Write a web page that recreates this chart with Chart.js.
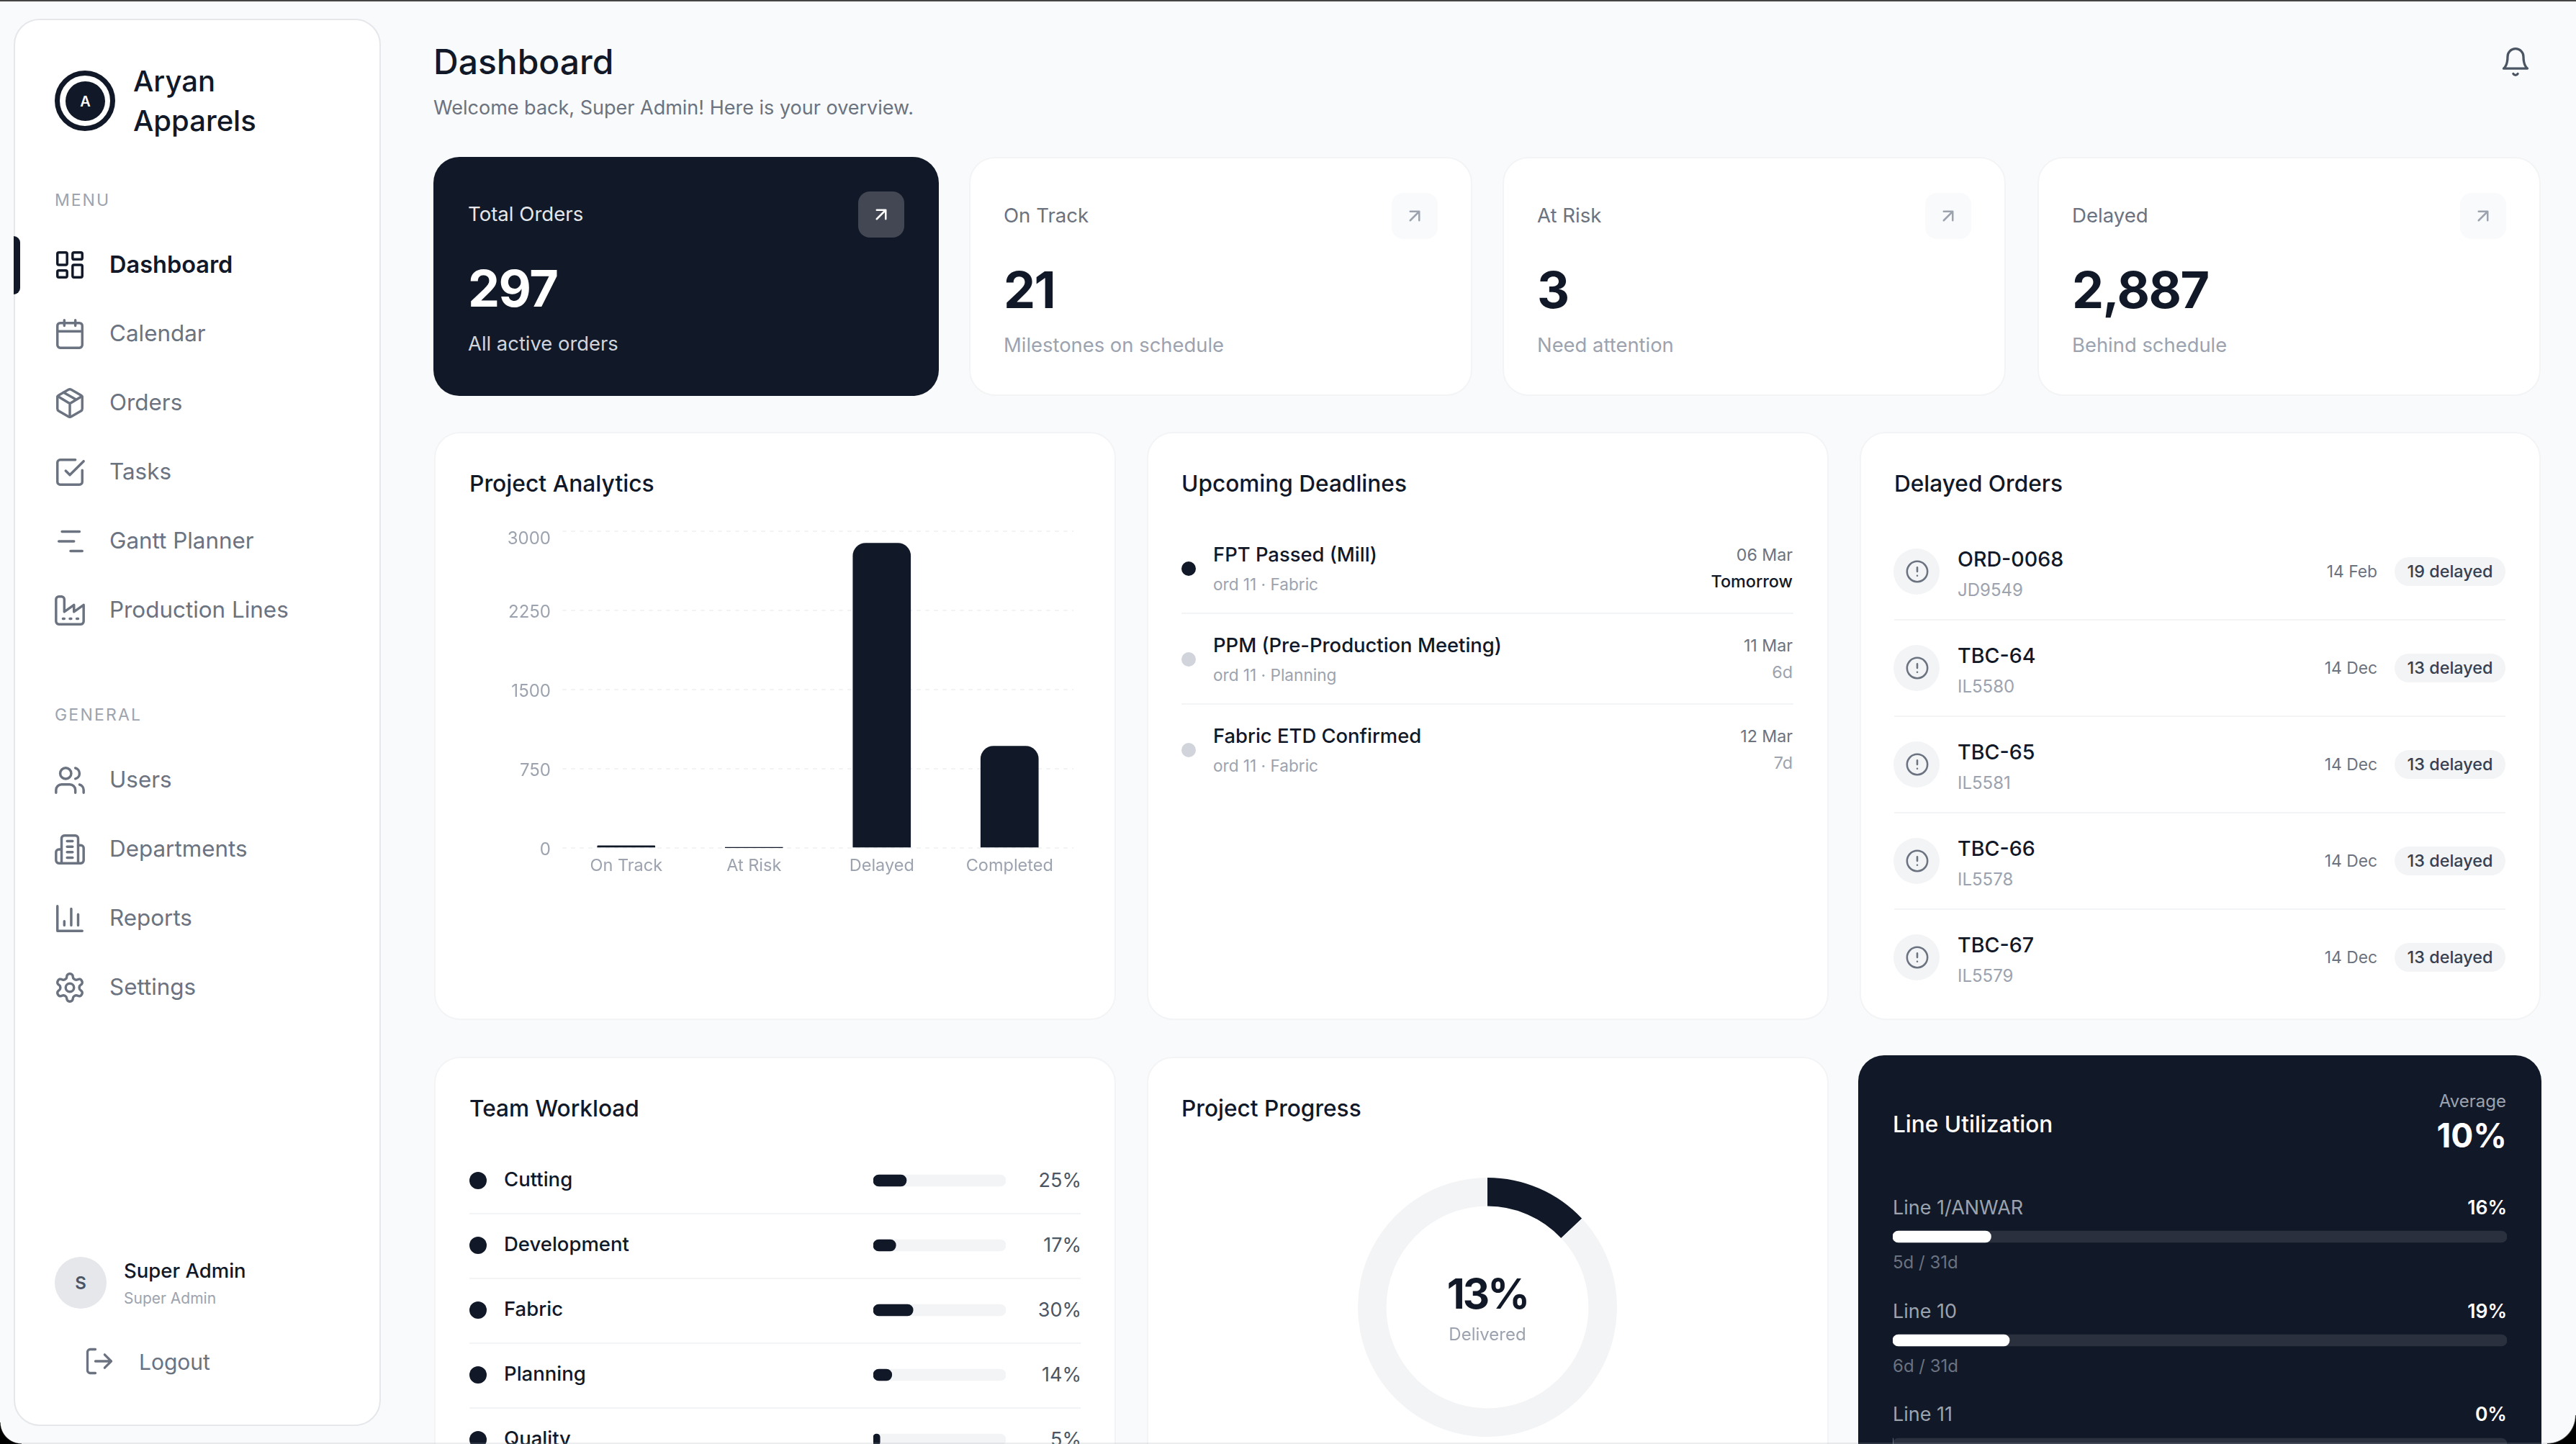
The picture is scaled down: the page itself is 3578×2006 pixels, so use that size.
<!DOCTYPE html>
<html>
<head>
<meta charset="utf-8">
<title>Dashboard</title>
<script src="https://cdn.jsdelivr.net/npm/chart.js@4/dist/chart.umd.min.js"></script>
<style>
html,body{margin:0;padding:0;background:#f9fafb;}
#page{position:relative;width:3578px;height:2006px;overflow:hidden;background:#f9fafb;font-family:Inter,sans-serif;color:#111827;}
#page div,#page span,#page svg,#page canvas{position:absolute;}
.card{background:#fff;border:2px solid #f3f4f6;box-sizing:border-box;border-radius:36px;}
.dark{background:#111827;border:0;}
.t{white-space:nowrap;line-height:1;transform:translateY(-50%);}
.r{transform:translate(-100%,-50%);}
.c{transform:translate(-50%,-50%);}
svg{fill:none;stroke-linecap:round;stroke-linejoin:round;}
</style>
</head>
<body>
<div id="page"></div>
<script>
// chart values
var analyticsLabels = ["On Track", "At Risk", "Delayed", "Completed"];
var analyticsValues = [21, 3, 2887, 965];
var analyticsTicks = [0, 750, 1500, 2250, 3000];

var teamNames = ["Cutting", "Development", "Fabric", "Planning", "Quality"];
var teamLoads = [25, 17, 30, 14, 5];
var teamTrack = [100, 100, 100, 100, 100];

var lineNames = ["Line 1/ANWAR", "Line 10", "Line 11"];
var lineUsage = [16, 19, 0];
var lineTrack = [100, 100, 100];
var lineDays = ["5d / 31d", "6d / 31d", ""];

var progressLabels = ["Delivered", "Remaining"];
var progressValues = [13, 87];

// lists
var menuItems = ["Dashboard", "Calendar", "Orders", "Tasks", "Gantt Planner", "Production Lines"];
var generalItems = ["Users", "Departments", "Reports", "Settings"];
var kpiLabels = ["Total Orders", "On Track", "At Risk", "Delayed"];
var kpiValues = ["297", "21", "3", "2,887"];
var kpiNotes = ["All active orders", "Milestones on schedule", "Need attention", "Behind schedule"];
var deadlineNames = ["FPT Passed (Mill)", "PPM (Pre-Production Meeting)", "Fabric ETD Confirmed"];
var deadlineSubs = ["ord 11 · Fabric", "ord 11 · Planning", "ord 11 · Fabric"];
var deadlineDates = ["06 Mar", "11 Mar", "12 Mar"];
var deadlineLeft = ["Tomorrow", "6d", "7d"];
var delayedNames = ["ORD-0068", "TBC-64", "TBC-65", "TBC-66", "TBC-67"];
var delayedCodes = ["JD9549", "IL5580", "IL5581", "IL5578", "IL5579"];
var delayedDates = ["14 Feb", "14 Dec", "14 Dec", "14 Dec", "14 Dec"];
var delayedBadges = ["19 delayed", "13 delayed", "13 delayed", "13 delayed", "13 delayed"];

var icons = {
    dashboard: '<rect x="3" y="3" width="7" height="9" rx="1"/><rect x="14" y="3" width="7" height="5" rx="1"/><rect x="14" y="12" width="7" height="9" rx="1"/><rect x="3" y="16" width="7" height="5" rx="1"/>',
    calendar: '<path d="M8 2v4M16 2v4M3 10h18"/><rect x="3" y="4" width="18" height="18" rx="2"/>',
    orders: '<path d="M11 21.73a2 2 0 0 0 2 0l7-4A2 2 0 0 0 21 16V8a2 2 0 0 0-1-1.73l-7-4a2 2 0 0 0-2 0l-7 4A2 2 0 0 0 3 8v8a2 2 0 0 0 1 1.73z"/><path d="M12 22V12M3.3 7l7.703 4.734a2 2 0 0 0 1.994 0L20.7 7M7.5 4.27l9 5.15"/>',
    tasks: '<path d="M21 10.5V19a2 2 0 0 1-2 2H5a2 2 0 0 1-2-2V5a2 2 0 0 1 2-2h11"/><path d="M9 11l3 3L22 4"/>',
    gantt: '<path d="M6.3 5H19M4 12h11M12.5 19H21"/>',
    lines: '<path d="M2 20a2 2 0 0 0 2 2h16a2 2 0 0 0 2-2V8l-7 5V8l-7 5V4a2 2 0 0 0-2-2H4a2 2 0 0 0-2 2Z"/><path d="M17 18h1M12 18h1M7 18h1"/>',
    users: '<path d="M16 21v-2a4 4 0 0 0-4-4H6a4 4 0 0 0-4 4v2"/><circle cx="9" cy="7" r="4"/><path d="M22 21v-2a4 4 0 0 0-3-3.87M16 3.13a4 4 0 0 1 0 7.75"/>',
    departments: '<path d="M6 22V4a2 2 0 0 1 2-2h8a2 2 0 0 1 2 2v18Z"/><path d="M6 12H4a2 2 0 0 0-2 2v6a2 2 0 0 0 2 2h2M18 9h2a2 2 0 0 1 2 2v9a2 2 0 0 1-2 2h-2M10 6h4M10 10h4M10 14h4M10 18h4"/>',
    reports: '<path d="M3 3v18h18M18 17V9M13 17V5M8 17v-3"/>',
    settings: '<path d="M12.22 2h-.44a2 2 0 0 0-2 2v.18a2 2 0 0 1-1 1.73l-.43.25a2 2 0 0 1-2 0l-.15-.08a2 2 0 0 0-2.73.73l-.22.38a2 2 0 0 0 .73 2.73l.15.1a2 2 0 0 1 1 1.72v.51a2 2 0 0 1-1 1.74l-.15.09a2 2 0 0 0-.73 2.73l.22.38a2 2 0 0 0 2.73.73l.15-.08a2 2 0 0 1 2 0l.43.25a2 2 0 0 1 1 1.73V20a2 2 0 0 0 2 2h.44a2 2 0 0 0 2-2v-.18a2 2 0 0 1 1-1.73l.43-.25a2 2 0 0 1 2 0l.15.08a2 2 0 0 0 2.73-.73l.22-.39a2 2 0 0 0-.73-2.73l-.15-.08a2 2 0 0 1-1-1.74v-.5a2 2 0 0 1 1-1.74l.15-.09a2 2 0 0 0 .73-2.73l-.22-.38a2 2 0 0 0-2.73-.73l-.15.08a2 2 0 0 1-2 0l-.43-.25a2 2 0 0 1-1-1.73V4a2 2 0 0 0-2-2z"/><circle cx="12" cy="12" r="3"/>',
    logout: '<path d="M9 21H5a2 2 0 0 1-2-2V5a2 2 0 0 1 2-2h4M16 17l5-5-5-5M21 12H9"/>',
    bell: '<path d="M6 8a6 6 0 0 1 12 0c0 7 3 9 3 9H3s3-2 3-9"/><path d="M10.3 21a1.94 1.94 0 0 0 3.4 0"/>',
    arrow: '<path d="M7 7h10v10M7 17 17 7"/>',
    alert: '<circle cx="12" cy="12" r="10"/><path d="M12 8v4M12 16h.01"/>'
};

var page = document.getElementById("page");

function box(x, y, w, h, bg, radius, cls) {
    var d = document.createElement("div");
    d.style.cssText = "left:" + x + "px;top:" + y + "px;width:" + w + "px;height:" + h + "px;" + (bg ? "background:" + bg + ";" : "") + (radius ? "border-radius:" + radius + ";" : "");
    if (cls) d.className = cls;
    page.appendChild(d);
    return d;
}

// y is the middle of the text, align is "", "r" or "c"
function txt(x, y, s, size, weight, color, align, spacing) {
    var d = document.createElement("span");
    d.className = "t " + (align || "");
    d.textContent = s;
    d.style.cssText = "left:" + x + "px;top:" + y + "px;font-size:" + size + "px;font-weight:" + weight + ";color:" + color + ";letter-spacing:" + (spacing || 0) + "px;";
    page.appendChild(d);
}

function icon(name, cx, cy, size, color, sw) {
    var s = '<svg xmlns="http://www.w3.org/2000/svg" viewBox="0 0 24 24" width="' + size + '" height="' + size + '" stroke="' + color + '" stroke-width="' + sw + '" style="left:' + (cx - size / 2) + 'px;top:' + (cy - size / 2) + 'px">' + icons[name] + '</svg>';
    page.insertAdjacentHTML("beforeend", s);
}

function canvasAt(x, y, w, h) {
    var c = document.createElement("canvas");
    c.width = w;
    c.height = h;
    c.style.left = x + "px";
    c.style.top = y + "px";
    c.style.width = w + "px";
    c.style.height = h + "px";
    page.appendChild(c);
    return c;
}

function drawTrackBars(canvas, names, values, track, fill, rail) {
    new Chart(canvas, {
        type: "bar",
        data: {
            labels: names,
            datasets: [
                { data: values, backgroundColor: fill, order: 0 },
                { data: track, backgroundColor: rail, order: 1 }
            ]
        },
        options: {
            indexAxis: "y",
            responsive: false,
            animation: false,
            grouped: false,
            barThickness: 16,
            borderRadius: 8,
            borderSkipped: false,
            plugins: { legend: { display: false }, tooltip: { enabled: false } },
            scales: {
                x: { display: false, min: 0, max: 100 },
                y: { display: false }
            }
        }
    });
}

// sidebar
box(19, 26, 510, 1955, "", "", "card").style.borderColor = "#e5e7eb";
box(19, 328, 9, 81, "#111827", "0 10px 10px 0");
box(76, 98, 84, 84, "#fff", "50%").style.border = "7px solid #111827";
page.lastChild.style.boxSizing = "border-box";
box(91, 113, 55, 55, "#111827", "50%");
txt(118.5, 140.5, "A", 20, 600, "#fff", "c");
txt(185, 113, "Aryan", 40, 550, "#111827");
txt(185, 168, "Apparels", 40, 550, "#111827");

txt(76, 278, "MENU", 23, 400, "#9ca3af", "", 2);
var menuIcons = ["dashboard", "calendar", "orders", "tasks", "gantt", "lines"];
for (var i = 0; i < menuItems.length; i++) {
    var my = 368 + i * 96;
    icon(menuIcons[i], 97, my, 46, i == 0 ? "#111827" : "#6b7280", 1.8);
    txt(152, my, menuItems[i], i == 0 ? 32.5 : 31.4, i == 0 ? 600 : 400, i == 0 ? "#111827" : "#6b7280");
}
txt(76, 993, "GENERAL", 23, 400, "#9ca3af", "", 2.2);
var generalIcons = ["users", "departments", "reports", "settings"];
for (var i = 0; i < generalItems.length; i++) {
    var gy = 1084 + i * 96;
    icon(generalIcons[i], 97, gy, 46, "#6b7280", 1.8);
    txt(152, gy, generalItems[i], 31.4, 400, "#6b7280");
}
box(76, 1746, 72, 72, "#e5e7eb", "50%");
txt(112, 1783, "S", 24, 600, "#4b5563", "c");
txt(172, 1766, "Super Admin", 27.5, 450, "#111827");
txt(172, 1803, "Super Admin", 21, 400, "#9ca3af");
icon("logout", 138, 1891, 44, "#6b7280", 1.8);
txt(193, 1892, "Logout", 30, 400, "#6b7280");

// header
txt(602, 86, "Dashboard", 48, 550, "#111827");
txt(602, 149, "Welcome back, Super Admin! Here is your overview.", 27, 400, "#6b7280");
icon("bell", 3494, 86, 44, "#4b5563", 1.8);

// kpi cards
var kpiX = [602, 1346, 2087, 2830];
var kpiW = [702, 699, 699, 699];
for (var i = 0; i < 4; i++) {
    var dark = i == 0;
    var off = dark ? 0 : 2;
    box(kpiX[i], 218, kpiW[i], 332, "", "", dark ? "card dark" : "card");
    txt(kpiX[i] + 48, 298 + off, kpiLabels[i], 27.6, 400, dark ? "#e5e7eb" : "#6b7280");
    txt(kpiX[i] + 48, 401 + off, kpiValues[i], 70, 700, dark ? "#fff" : "#111827", "", -1.5);
    txt(kpiX[i] + 48, 478 + off, kpiNotes[i], 27.4, 400, dark ? "#d1d5db" : "#9ca3af");
    box(kpiX[i] + kpiW[i] - 112, 266 + off, 64, 64, dark ? "#424753" : "#f9fafb", "16px");
    icon("arrow", kpiX[i] + kpiW[i] - 80, 298 + off, 30, dark ? "#fff" : "#9ca3af", 2);
}

// middle row
box(603, 600, 947, 817, "", "", "card");
box(1593, 600, 947, 817, "", "", "card");
box(2583, 600, 946, 817, "", "", "card");
txt(652, 672, "Project Analytics", 31.8, 550, "#111827");
txt(1641, 672, "Upcoming Deadlines", 31.6, 550, "#111827");
txt(2631, 672, "Delayed Orders", 31.6, 550, "#111827");

new Chart(canvasAt(640, 700, 860, 540), {
    type: "bar",
    data: {
        labels: analyticsLabels,
        datasets: [{
            data: analyticsValues,
            backgroundColor: "#111827",
            barThickness: 80,
            borderRadius: 18
        }]
    },
    options: {
        responsive: false,
        animation: false,
        layout: { padding: { top: 37, right: 9 } },
        plugins: { legend: { display: false }, tooltip: { enabled: false } },
        scales: {
            x: {
                grid: { display: false },
                border: { display: false },
                ticks: { color: "#9ca3af", padding: 3, font: { family: "Inter", size: 23.5 } },
                afterFit: function (s) { s.height = 62; }
            },
            y: {
                min: 0,
                max: 3000,
                afterBuildTicks: function (s) { s.ticks = analyticsTicks.map(function (v) { return { value: v }; }); },
                afterFit: function (s) { s.width = 141; },
                grid: { color: "#f3f4f6", lineWidth: 2, drawTicks: false },
                border: { display: false, dash: [6, 6] },
                ticks: {
                    color: "#9ca3af",
                    padding: 16,
                    // labels sit a little under their grid line, the top one more
                    callback: function (v) { return ["", String(v)]; },
                    font: function (ctx) {
                        return { family: "Inter", size: 24, lineHeight: ctx.tick && ctx.tick.value == 3000 ? "22px" : "6px" };
                    }
                }
            }
        }
    }
});

// upcoming deadlines
var deadlineY = [771, 897, 1023];
for (var i = 0; i < 3; i++) {
    var dy = deadlineY[i];
    box(1641, dy + 9, 20, 20, i == 0 ? "#111827" : "#d1d5db", "50%");
    txt(1685, dy, deadlineNames[i], 27.4, 450, "#111827");
    txt(1685, dy + 41, deadlineSubs[i], 22.6, 400, "#9ca3af");
    txt(2490, dy + 1, deadlineDates[i], 23.2, 400, "#6b7280", "r");
    txt(2490, dy + 37, deadlineLeft[i], 23.4, i == 0 ? 550 : 400, i == 0 ? "#111827" : "#9ca3af", "r");
    if (i < 2) box(1641, dy + 80, 850, 2, "#f3f4f6");
}

// delayed orders
for (var i = 0; i < 5; i++) {
    var oy = 794 + i * 134;
    box(2630, oy - 32, 64, 64, "#f3f4f6", "50%");
    icon("alert", 2662.5, oy, 34, "#6b7280", 1.8);
    txt(2719, oy - 17, delayedNames[i], 28.6, 450, "#111827");
    txt(2719, oy + 26, delayedCodes[i], 24, 400, "#9ca3af");
    txt(3302, oy, delayedDates[i], 22.8, 400, "#6b7280", "r");
    box(3326, oy - 20, 154, 40, "#f3f4f6", "20px");
    txt(3403, oy, delayedBadges[i], 23.4, 550, "#374151", "c");
    if (i < 4) box(2631, oy + 66, 849, 2, "#f3f4f6");
}

// bottom row
box(603, 1468, 947, 700, "", "", "card");
box(1593, 1468, 947, 700, "", "", "card");
box(2581, 1466, 949, 700, "", "", "card dark");
txt(652, 1540, "Team Workload", 31.6, 550, "#111827");
txt(1641, 1540, "Project Progress", 31.6, 550, "#111827");

for (var i = 0; i < teamNames.length; i++) {
    var ty = 1640 + i * 90;
    box(652, ty - 12, 24, 24, "#111827", "50%");
    txt(700, ty - 1, teamNames[i], 27.5, 450, "#111827");
    txt(1502, ty - 1, teamLoads[i] + "%", 27, 400, "#4b5563", "r");
    if (i < 4) box(652, ty + 45, 849, 2, "#f3f4f6");
}
drawTrackBars(canvasAt(1213, 1595, 184, 450), teamNames, teamLoads, teamTrack, "#111827", "#f3f4f6");

// donut
new Chart(canvasAt(1886, 1636, 360, 360), {
    type: "doughnut",
    data: {
        labels: progressLabels,
        datasets: [{ data: progressValues, backgroundColor: ["#111827", "#f3f4f6"], borderWidth: 0 }]
    },
    options: {
        responsive: false,
        animation: false,
        cutout: "78%",
        plugins: { legend: { display: false }, tooltip: { enabled: false } }
    }
});
txt(2066, 1797, "13%", 58, 700, "#111827", "c", -3);
txt(2066, 1854, "Delivered", 24, 400, "#9ca3af", "c");

// line utilization
txt(2629, 1562, "Line Utilization", 31.6, 550, "#fff");
txt(3481, 1530, "Average", 24, 400, "#9ca3af", "r");
txt(3482, 1577, "10%", 46, 700, "#fff", "r");
for (var i = 0; i < lineNames.length; i++) {
    var ly = 1677 + i * 143.5;
    txt(2629, ly, lineNames[i], 27, 400, "#9ca3af");
    txt(3482, ly, lineUsage[i] + "%", 26.5, 600, "#fff", "r");
    if (lineDays[i]) txt(2629, ly + 77, lineDays[i], 24, 400, "#6b7280");
}
drawTrackBars(canvasAt(2629, 1646, 853, 432), lineNames, lineUsage, lineTrack, "#fff", "#2a303e");

// screen edges
box(0, 0, 3578, 2, "#444");
box(0, 2004, 3578, 2, "rgba(160,165,175,.2)");
box(0, 1976, 30, 30, "radial-gradient(circle 30px at 100% 0, transparent 96%, #000 100%)");
box(3538, 1966, 40, 40, "radial-gradient(circle 40px at 0 0, transparent 96%, #000 100%)");
</script>
</body>
</html>
